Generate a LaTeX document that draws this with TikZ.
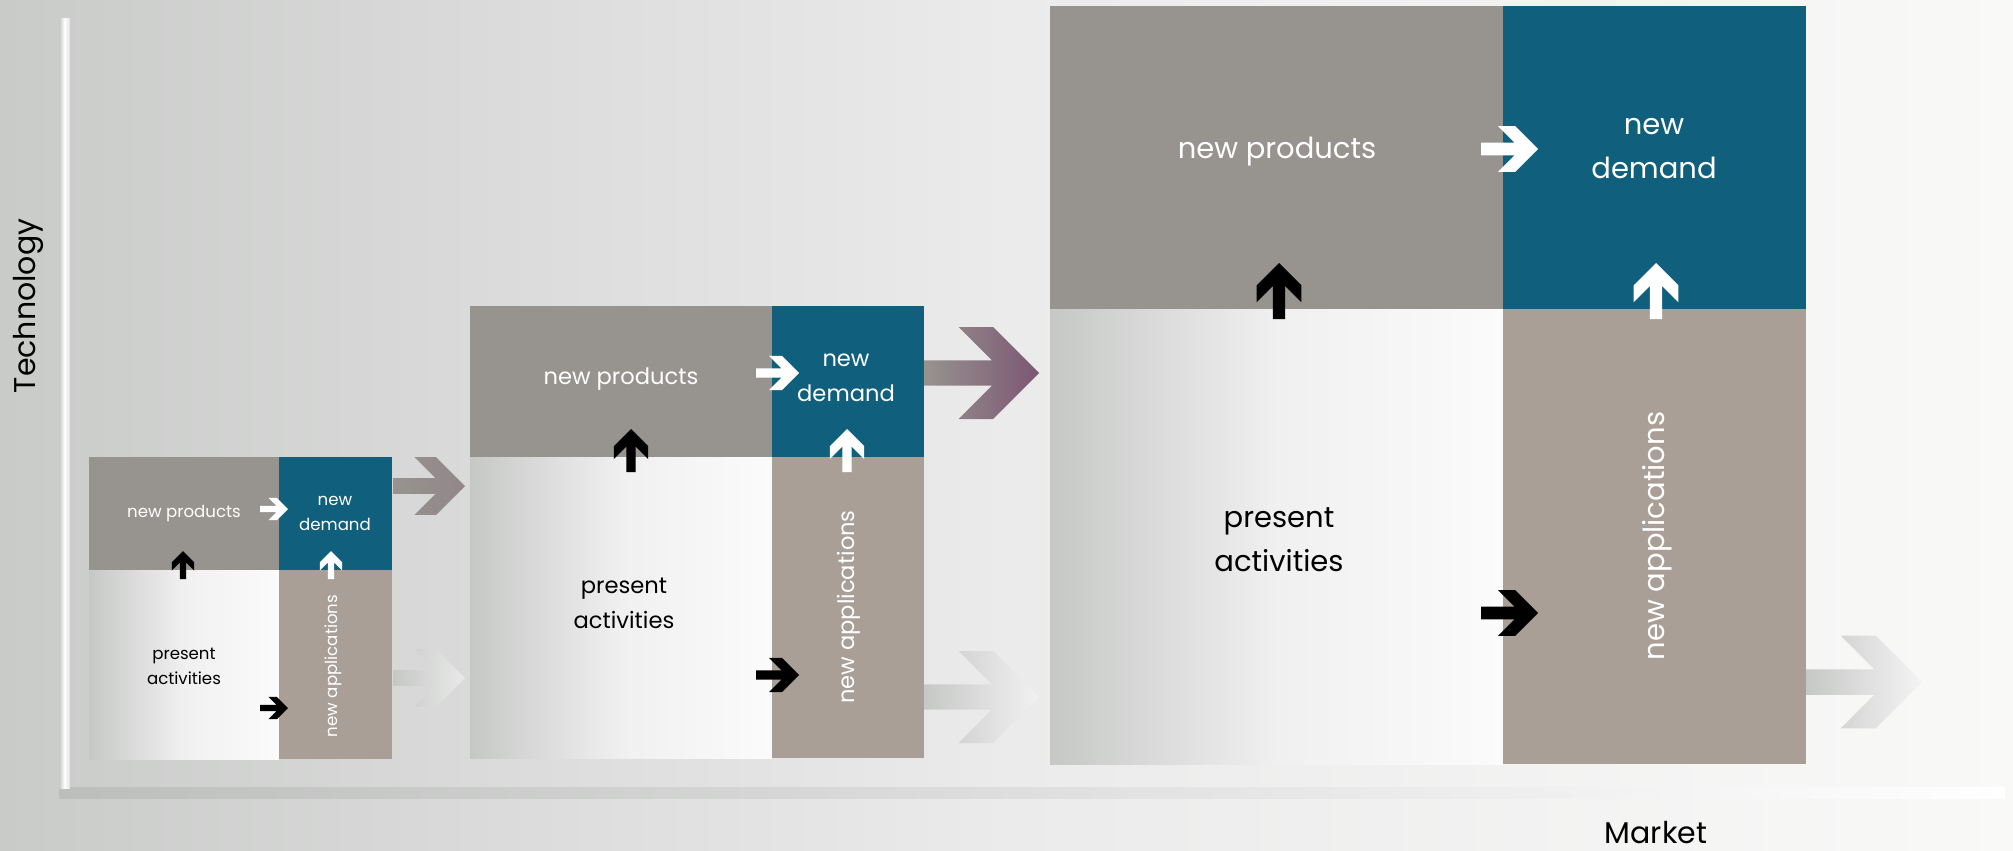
\documentclass[tikz,border=0pt]{standalone}
\usepackage{fontspec}
\setmainfont{Poppins}

\definecolor{prodgray}{HTML}{97938F}
\definecolor{demblue}{HTML}{105F7D}
\definecolor{applgray}{HTML}{A99F97}
\definecolor{presgray}{HTML}{C6C8C6}
\definecolor{preslight}{HTML}{F0F0F0}
\definecolor{preswhite}{HTML}{FBFBFB}
\definecolor{bgleft}{HTML}{C9CBC9}
\definecolor{bgmid}{HTML}{EBEBEB}
\definecolor{bgright}{HTML}{F9F9F8}
\definecolor{plum}{HTML}{7C5774}

\tikzset{
  barrow/.style={insert path={(0,.11) -- (.59,.11) -- (.3,.4) -- (.6,.4) -- (1,0) -- (.6,-.4) -- (.3,-.4) -- (.59,-.11) -- (0,-.11) -- cycle}},
  lbl/.style={inner sep=0pt, align=center, text=white},
  fsA/.style={font=\fontsize{8.3}{12.5}\selectfont},
  fsB/.style={font=\fontsize{11.3}{17.5}\selectfont},
  fsC/.style={font=\fontsize{14.5}{22}\selectfont},
  axislabel/.style={inner sep=0pt, font=\fontsize{15}{18}\selectfont},
}

\begin{document}
\begin{tikzpicture}[x=0.5pt, y=-0.5pt]
	\useasboundingbox (0,0) rectangle (2013,851);
	\shade[left color=bgleft, right color=bgright, middle color=bgmid] (0,0) rectangle (2013,851);
	
	% axes
	\shade[left color=presgray!95!black, right color=white] (59,787) rectangle (2005,798);
	\shade[left color=presgray, right color=bgleft!60!white, middle color=white] (59,18) rectangle (70,788);
	\node[axislabel, rotate=90] (tech) at (28,306) {Technology};
	\node[axislabel] (market) at (1656,833) {Market};
	
	% the three stages, quadrant by quadrant
	\foreach \l/\m/\r/\t/\h/\b in {89/279/392/457/570/759, 470/772/924/306/457/758, 1050/1503/1806/6/309/764} {
		\fill[prodgray] (\l,\t) rectangle (\m,\h);
		\fill[demblue] (\m,\t) rectangle (\r,\h);
		\shade[left color=presgray, right color=preswhite, middle color=preslight] (\l,\h) rectangle (\m,\b);
		\fill[applgray] (\m,\h) rectangle (\r,\b);
	}
	
	\node[lbl, fsA] (prod1) at (184,514) {new products};
	\node[lbl, fsA] (dem1) at (335,513) {new\\demand};
	\node[lbl, fsA, text=black] (pres1) at (184,666) {present\\activities};
	\node[lbl, fsA, rotate=90] (appl1) at (333,666) {new applications};
	
	\node[lbl, fsB] (prod2) at (621,379) {new products};
	\node[lbl, fsB] (dem2) at (846,378) {new\\demand};
	\node[lbl, fsB, text=black] (pres2) at (624,603) {present\\activities};
	\node[lbl, fsB, rotate=90] (appl2) at (849,607) {new applications};
	
	\node[lbl, fsC] (prod3) at (1277,152) {new products};
	\node[lbl, fsC] (dem3) at (1654,149) {new\\demand};
	\node[lbl, fsC, text=black] (pres3) at (1279,540) {present\\activities};
	\node[lbl, fsC, rotate=90] (appl3) at (1657,536) {new applications};
	
	% arrows inside each stage
	\foreach \x/\y/\a/\L/\col in {260/509/0/28/white, 260/708/0/28/black, 183/579/90/28/black, 331/579/90/28/white,
		756/373/0/43/white, 756/675/0/43/black, 631/472/90/43/black, 847/472/90/43/white,
		1481/149/0/57/white, 1481/613/0/57/black, 1279/319/90/56/black, 1656/319/90/56/white} {
		\path[fill=\col, shift={(\x,\y)}, rotate=\a, scale=\L, barrow];
	}
	
	% arrows from stage to stage
	\foreach \x/\y/\L/\ca/\cb in {393/486/72/prodgray/plum!20!prodgray, 393/678/72/presgray/presgray!40!white,
		924/373/115/prodgray/plum, 924/697/115/presgray/presgray!25!white, 1806/682/116/presgray/presgray!20!white} {
		\path[left color=\ca, right color=\cb, shift={(\x,\y)}, scale=\L, barrow];
	}
	
\end{tikzpicture}
\end{document}
